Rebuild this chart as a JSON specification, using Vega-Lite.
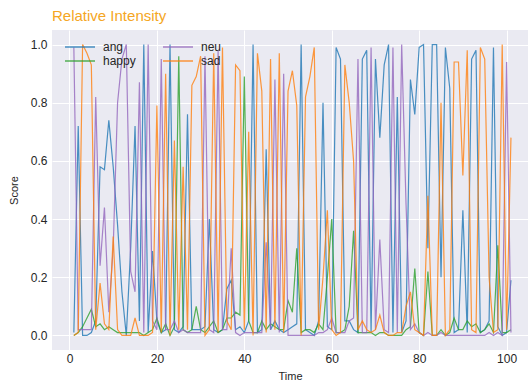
{
"$schema": "https://vega.github.io/schema/vega-lite/v6.json",
"autosize": {"type": "none"},
"width": 476, "height": 320,
"padding": {"left": 52, "top": 30, "right": 0, "bottom": 31},
"background": "white",
"title": {"text": "Relative Intensity", "anchor": "start", "frame": "group", "color": "#F5A623", "fontSize": 15, "font": "Liberation Sans", "fontWeight": "normal", "offset": 6},
"data": {"values": [
{"t":1,"ang":0.01,"happy":0.00,"neu":0.99,"sad":0.00},
{"t":2,"ang":0.72,"happy":0.01,"neu":0.02,"sad":0.01},
{"t":3,"ang":0.00,"happy":0.03,"neu":0.02,"sad":1.00},
{"t":4,"ang":0.00,"happy":0.06,"neu":0.02,"sad":0.97},
{"t":5,"ang":0.01,"happy":0.09,"neu":0.02,"sad":0.93},
{"t":6,"ang":0.05,"happy":0.03,"neu":0.82,"sad":0.02},
{"t":7,"ang":0.58,"happy":0.04,"neu":0.24,"sad":0.18},
{"t":8,"ang":0.57,"happy":0.02,"neu":0.44,"sad":0.04},
{"t":9,"ang":0.74,"happy":0.03,"neu":0.08,"sad":0.02},
{"t":10,"ang":0.58,"happy":0.02,"neu":0.30,"sad":0.34},
{"t":11,"ang":0.38,"happy":0.01,"neu":0.80,"sad":0.02},
{"t":12,"ang":0.15,"happy":0.01,"neu":0.95,"sad":0.00},
{"t":13,"ang":0.00,"happy":0.01,"neu":1.00,"sad":0.00},
{"t":14,"ang":0.30,"happy":0.01,"neu":0.22,"sad":0.00},
{"t":15,"ang":0.72,"happy":0.01,"neu":0.15,"sad":0.06},
{"t":16,"ang":0.05,"happy":0.01,"neu":0.87,"sad":0.00},
{"t":17,"ang":1.00,"happy":0.00,"neu":0.01,"sad":0.00},
{"t":18,"ang":0.01,"happy":0.01,"neu":1.00,"sad":0.00},
{"t":19,"ang":0.29,"happy":0.02,"neu":0.05,"sad":0.01},
{"t":20,"ang":0.05,"happy":0.06,"neu":0.02,"sad":0.79},
{"t":21,"ang":0.01,"happy":0.01,"neu":0.95,"sad":0.01},
{"t":22,"ang":0.02,"happy":0.04,"neu":0.02,"sad":0.90},
{"t":23,"ang":1.00,"happy":0.00,"neu":0.02,"sad":0.00},
{"t":24,"ang":0.02,"happy":0.03,"neu":0.05,"sad":0.67},
{"t":25,"ang":0.01,"happy":0.96,"neu":0.01,"sad":0.02},
{"t":26,"ang":0.03,"happy":0.02,"neu":0.02,"sad":0.58},
{"t":27,"ang":0.76,"happy":0.01,"neu":0.01,"sad":0.02},
{"t":28,"ang":0.02,"happy":0.02,"neu":0.01,"sad":0.86},
{"t":29,"ang":0.02,"happy":0.10,"neu":0.01,"sad":0.89},
{"t":30,"ang":0.02,"happy":0.02,"neu":0.01,"sad":0.96},
{"t":31,"ang":0.03,"happy":0.01,"neu":0.96,"sad":0.00},
{"t":32,"ang":0.40,"happy":0.03,"neu":0.02,"sad":0.02},
{"t":33,"ang":0.02,"happy":0.05,"neu":0.01,"sad":0.97},
{"t":34,"ang":0.01,"happy":0.01,"neu":0.98,"sad":0.01},
{"t":35,"ang":0.02,"happy":0.02,"neu":0.02,"sad":0.99},
{"t":36,"ang":0.16,"happy":0.06,"neu":0.02,"sad":0.05},
{"t":37,"ang":0.19,"happy":0.06,"neu":0.30,"sad":0.02},
{"t":38,"ang":0.02,"happy":0.08,"neu":0.01,"sad":0.93},
{"t":39,"ang":0.03,"happy":0.07,"neu":0.00,"sad":0.91},
{"t":40,"ang":0.01,"happy":0.89,"neu":0.01,"sad":0.02},
{"t":41,"ang":0.05,"happy":0.05,"neu":0.01,"sad":0.70},
{"t":42,"ang":1.00,"happy":0.01,"neu":0.01,"sad":0.00},
{"t":43,"ang":0.01,"happy":0.01,"neu":0.01,"sad":0.97},
{"t":44,"ang":0.02,"happy":0.05,"neu":0.01,"sad":0.84},
{"t":45,"ang":0.64,"happy":0.02,"neu":0.32,"sad":0.01},
{"t":46,"ang":0.02,"happy":0.04,"neu":0.02,"sad":0.95},
{"t":47,"ang":0.05,"happy":0.03,"neu":0.88,"sad":0.02},
{"t":48,"ang":0.02,"happy":0.02,"neu":0.01,"sad":0.97},
{"t":49,"ang":0.01,"happy":0.02,"neu":0.90,"sad":0.01},
{"t":50,"ang":0.02,"happy":0.12,"neu":0.00,"sad":0.84},
{"t":51,"ang":0.03,"happy":0.08,"neu":0.00,"sad":0.91},
{"t":52,"ang":0.04,"happy":0.30,"neu":0.00,"sad":0.79},
{"t":53,"ang":1.00,"happy":0.01,"neu":0.00,"sad":0.00},
{"t":54,"ang":0.02,"happy":0.02,"neu":0.00,"sad":0.82},
{"t":55,"ang":0.01,"happy":0.02,"neu":0.00,"sad":0.89},
{"t":56,"ang":0.00,"happy":0.01,"neu":0.00,"sad":0.99},
{"t":57,"ang":0.05,"happy":0.04,"neu":0.01,"sad":0.02},
{"t":58,"ang":0.80,"happy":0.02,"neu":0.01,"sad":0.20},
{"t":59,"ang":0.03,"happy":0.20,"neu":0.02,"sad":0.43},
{"t":60,"ang":0.02,"happy":0.40,"neu":0.06,"sad":0.02},
{"t":61,"ang":0.99,"happy":0.01,"neu":0.01,"sad":0.00},
{"t":62,"ang":0.95,"happy":0.01,"neu":0.01,"sad":0.01},
{"t":63,"ang":0.05,"happy":0.02,"neu":0.01,"sad":0.93},
{"t":64,"ang":0.05,"happy":0.10,"neu":0.05,"sad":0.80},
{"t":65,"ang":0.02,"happy":0.36,"neu":0.06,"sad":0.60},
{"t":66,"ang":0.01,"happy":0.01,"neu":0.95,"sad":0.02},
{"t":67,"ang":0.95,"happy":0.01,"neu":0.01,"sad":0.05},
{"t":68,"ang":0.98,"happy":0.01,"neu":0.01,"sad":0.02},
{"t":69,"ang":0.01,"happy":0.01,"neu":0.99,"sad":0.01},
{"t":70,"ang":0.95,"happy":0.00,"neu":0.02,"sad":0.02},
{"t":71,"ang":0.68,"happy":0.01,"neu":0.33,"sad":0.07},
{"t":72,"ang":0.93,"happy":0.01,"neu":0.02,"sad":0.01},
{"t":73,"ang":1.00,"happy":0.00,"neu":0.01,"sad":0.00},
{"t":74,"ang":0.01,"happy":0.00,"neu":0.99,"sad":0.00},
{"t":75,"ang":0.82,"happy":0.00,"neu":0.01,"sad":0.01},
{"t":76,"ang":0.01,"happy":0.00,"neu":1.00,"sad":0.01},
{"t":77,"ang":0.05,"happy":0.02,"neu":0.45,"sad":0.10},
{"t":78,"ang":0.88,"happy":0.03,"neu":0.02,"sad":0.15},
{"t":79,"ang":0.76,"happy":0.23,"neu":0.04,"sad":0.02},
{"t":80,"ang":0.99,"happy":0.01,"neu":0.01,"sad":0.01},
{"t":81,"ang":1.00,"happy":0.00,"neu":0.00,"sad":0.00},
{"t":82,"ang":0.30,"happy":0.22,"neu":0.01,"sad":0.48},
{"t":83,"ang":1.00,"happy":0.00,"neu":0.00,"sad":0.00},
{"t":84,"ang":1.00,"happy":0.00,"neu":0.00,"sad":0.00},
{"t":85,"ang":0.20,"happy":0.02,"neu":0.01,"sad":0.80},
{"t":86,"ang":0.99,"happy":0.00,"neu":0.00,"sad":0.00},
{"t":87,"ang":0.85,"happy":0.01,"neu":0.00,"sad":0.02},
{"t":88,"ang":0.01,"happy":0.06,"neu":0.00,"sad":0.94},
{"t":89,"ang":0.02,"happy":0.02,"neu":0.00,"sad":0.94},
{"t":90,"ang":0.43,"happy":0.02,"neu":0.00,"sad":0.55},
{"t":91,"ang":0.01,"happy":0.05,"neu":0.00,"sad":0.98},
{"t":92,"ang":0.95,"happy":0.03,"neu":0.00,"sad":0.02},
{"t":93,"ang":0.98,"happy":0.04,"neu":0.00,"sad":0.01},
{"t":94,"ang":0.01,"happy":0.01,"neu":0.00,"sad":0.99},
{"t":95,"ang":0.02,"happy":0.02,"neu":0.00,"sad":0.95},
{"t":96,"ang":0.05,"happy":0.04,"neu":0.01,"sad":0.20},
{"t":97,"ang":0.99,"happy":0.01,"neu":0.00,"sad":0.01},
{"t":98,"ang":0.03,"happy":0.31,"neu":0.01,"sad":0.02},
{"t":99,"ang":0.00,"happy":0.01,"neu":0.00,"sad":1.00},
{"t":100,"ang":0.01,"happy":0.01,"neu":0.94,"sad":0.02},
{"t":101,"ang":0.19,"happy":0.02,"neu":0.01,"sad":0.68}
]},
"transform": [{"fold": ["ang", "happy", "neu", "sad"], "as": ["emotion", "score"]}],
"mark": {"type": "line", "strokeWidth": 1.2, "opacity": 0.8, "clip": true},
"encoding": {
  "x": {"field": "t", "type": "quantitative", "scale": {"domain": [-4, 104.9], "nice": false, "zero": false}, "axis": {"values": [0, 20, 40, 60, 80, 100], "title": "Time", "labelPadding": 3, "titlePadding": 6}},
  "y": {"field": "score", "type": "quantitative", "scale": {"domain": [-0.05, 1.05], "nice": false}, "axis": {"values": [0, 0.2, 0.4, 0.6, 0.8, 1.0], "format": ".1f", "title": "Score", "labelPadding": 5, "titlePadding": 11}},
  "color": {"field": "emotion", "type": "nominal", "scale": {"domain": ["ang", "happy", "neu", "sad"], "range": ["#1f77b4", "#2ca02c", "#9467bd", "#ff7f0e"]},
    "legend": {"title": null, "orient": "none", "legendX": 22, "legendY": 11, "columns": 2, "symbolType": "M-3,0H3", "symbolSize": 100, "symbolStrokeWidth": 1.5, "symbolOpacity": 0.8, "labelFontSize": 12, "labelFont": "Liberation Sans", "labelColor": "#262626", "columnPadding": 24, "rowPadding": 2, "labelOffset": 17}}
},
"config": {
  "view": {"fill": "#EAEAF2", "stroke": null},
  "axis": {"domain": false, "ticks": false, "gridColor": "white", "gridWidth": 1, "labelFont": "Liberation Sans", "labelFontSize": 12, "labelColor": "#262626", "titleFont": "Liberation Sans", "titleFontSize": 11, "titleFontWeight": "normal", "titleColor": "#262626"}
}
}
